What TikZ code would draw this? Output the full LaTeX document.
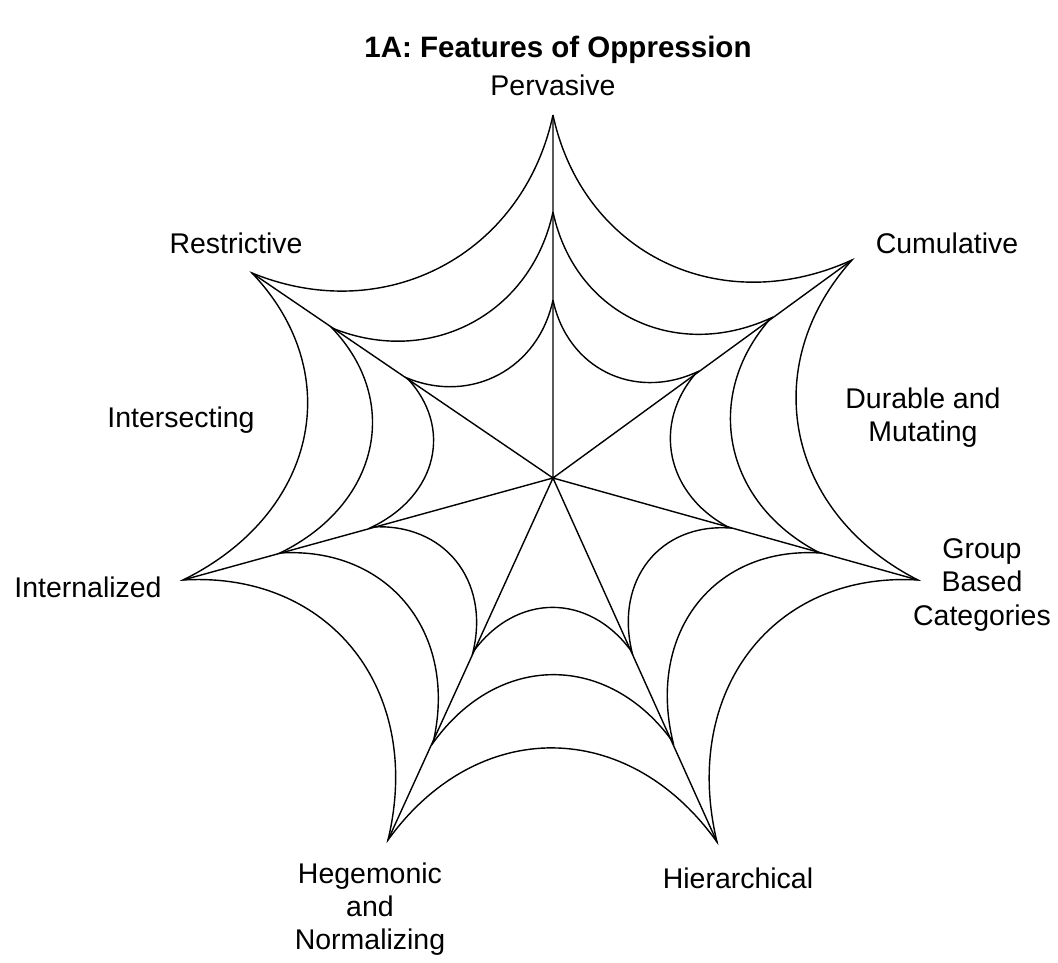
\documentclass[tikz,border=0pt]{standalone}
\usepackage{fontspec}
\setmainfont{Liberation Sans}
\usetikzlibrary{calc,positioning}
\tikzset{
	webarc/.style={to path={.. controls ($(\tikztostart)!.38!(ctr)!.1!(\tikztotarget)$) and ($(\tikztotarget)!.38!(ctr)!.1!(\tikztostart)$) .. (\tikztotarget)}},
	lbl/.style={font=\fontsize{8.1}{9.4}\selectfont,align=center,inner sep=0pt},
	ttl/.style={font=\bfseries\fontsize{8.4}{10}\selectfont,inner sep=0pt}
}
\begin{document}
\begin{tikzpicture}
	\useasboundingbox (-5.53,-4.85) rectangle (5.05,4.78);
	\node[coordinate] (ctr) at (0,0) {}; % hub of the web
	
	% spoke points: 1 outer, 2 middle, 3 inner ring
	\node[coordinate] (per1) at (0,3.63) {};
	\node[coordinate] (per2) at (0,2.66) {};
	\node[coordinate] (per3) at (0,1.78) {};
	\node[coordinate] (cum1) at (2.99,2.18) {};
	\node[coordinate] (cum2) at (2.18,1.60) {};
	\node[coordinate] (cum3) at (1.44,1.06) {};
	\node[coordinate] (grp1) at (3.65,-1.02) {};
	\node[coordinate] (grp2) at (2.67,-0.75) {};
	\node[coordinate] (grp3) at (1.77,-0.50) {};
	\node[coordinate] (hie1) at (1.64,-3.64) {};
	\node[coordinate] (hie2) at (1.20,-2.64) {};
	\node[coordinate] (hie3) at (0.79,-1.74) {};
	\node[coordinate] (heg1) at (-1.65,-3.62) {};
	\node[coordinate] (heg2) at (-1.20,-2.65) {};
	\node[coordinate] (heg3) at (-0.80,-1.74) {};
	\node[coordinate] (int1) at (-3.70,-1.02) {};
	\node[coordinate] (int2) at (-2.73,-0.75) {};
	\node[coordinate] (int3) at (-1.81,-0.49) {};
	\node[coordinate] (res1) at (-3.01,2.05) {};
	\node[coordinate] (res2) at (-2.21,1.50) {};
	\node[coordinate] (res3) at (-1.46,1.00) {};
	
	% spokes
	\draw (ctr) -- (per1) (ctr) -- (cum1) (ctr) -- (grp1) (ctr) -- (hie1)
		(ctr) -- (heg1) (ctr) -- (int1) (ctr) -- (res1);
	
	% rings
	\draw[webarc] (per1) to (cum1) to (grp1) to (hie1) to (heg1) to (int1) to (res1) to (per1);
	\draw[webarc] (per2) to (cum2) to (grp2) to (hie2) to (heg2) to (int2) to (res2) to (per2);
	\draw[webarc] (per3) to (cum3) to (grp3) to (hie3) to (heg3) to (int3) to (res3) to (per3);
	
	\node[ttl] (title) at (0.05,4.28) {1A: Features of Oppression};
	\node[lbl] (pervasive) at (0,3.93) {Pervasive};
	\node[lbl] (cumulative) at (3.94,2.35) {Cumulative};
	\node[lbl] (durable) at (3.70,0.60) {Durable and\\Mutating};
	\node[lbl] (group) at (4.29,-1.07) {Group\\Based\\Categories};
	\node[lbl] (hierarchical) at (1.85,-4.00) {Hierarchical};
	\node[lbl] (hegemonic) at (-1.83,-4.31) {Hegemonic\\and\\Normalizing};
	\node[lbl] (internalized) at (-4.65,-1.09) {Internalized};
	\node[lbl] (intersecting) at (-3.72,0.58) {Intersecting};
	\node[lbl] (restrictive) at (-3.17,2.35) {Restrictive};
\end{tikzpicture}
\end{document}
